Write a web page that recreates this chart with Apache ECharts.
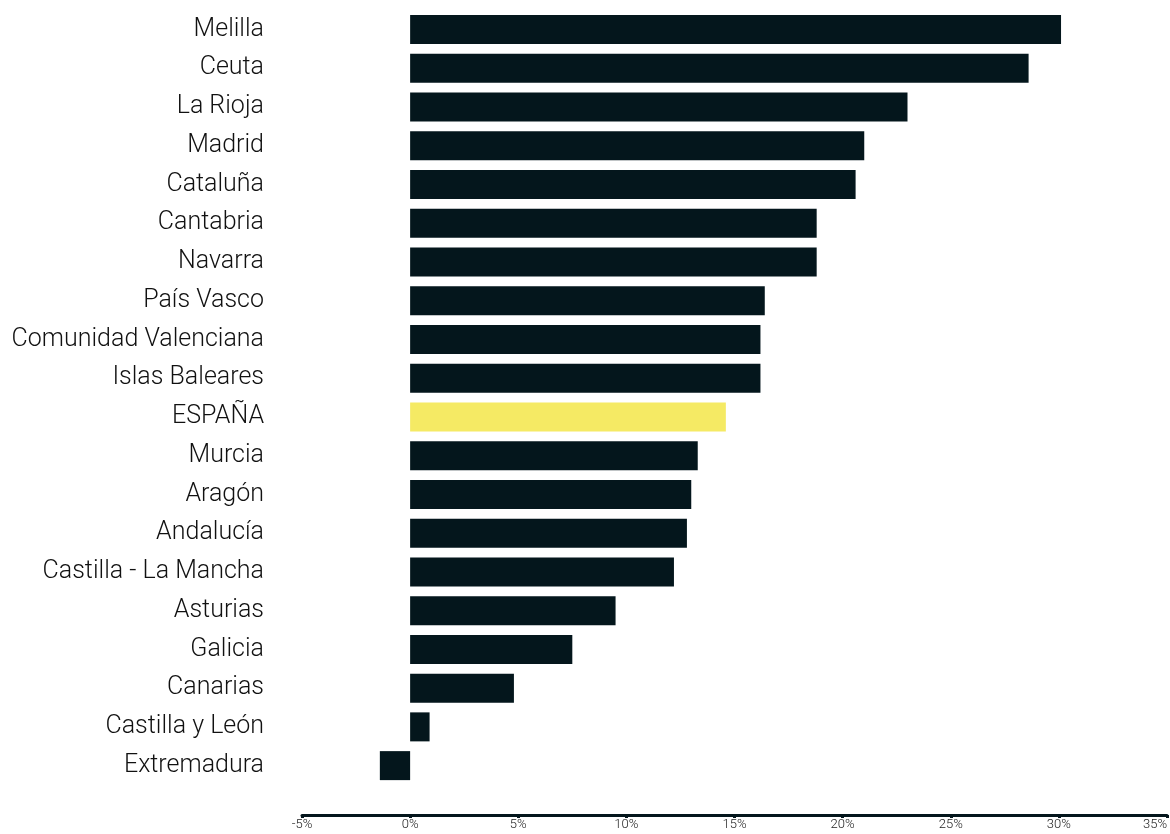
<!DOCTYPE html>
<html>
<head>
<meta charset="utf-8">
<script src="https://cdn.jsdelivr.net/npm/echarts@6/dist/echarts.min.js"></script>
<style>
  html, body { margin: 0; padding: 0; background: #fff; }
  #chart { width: 1170px; height: 834px; }
</style>
</head>
<body>
<div id="chart"></div>
<script>
var regiones = ['Melilla', 'Ceuta', 'La Rioja', 'Madrid', 'Cataluña', 'Cantabria', 'Navarra',
  'País Vasco', 'Comunidad Valenciana', 'Islas Baleares', 'ESPAÑA', 'Murcia', 'Aragón',
  'Andalucía', 'Castilla - La Mancha', 'Asturias', 'Galicia', 'Canarias', 'Castilla y León',
  'Extremadura'];
var valores = [30.1, 28.6, 23.0, 21.0, 20.6, 18.8, 18.8, 16.4, 16.2, 16.2, 14.6, 13.3, 13.0,
  12.8, 12.2, 9.5, 7.5, 4.8, 0.9, -1.4];
var destacado = 'ESPAÑA';

var chart = echarts.init(document.getElementById('chart'));

var datos = valores.map(function(v, i) {
  return {
    value: v,
    itemStyle: { color: regiones[i] === destacado ? '#f5ea64' : '#04161c' }
  };
});

chart.setOption({
  animation: false,
  grid: { left: 302, right: 2, top: 10, bottom: 49 },
  xAxis: {
    type: 'value',
    min: -5,
    max: 35,
    interval: 5,
    offset: 30,
    splitLine: { show: false },
    axisLine: { show: true, onZero: false, lineStyle: { color: '#04161c', width: 3 } },
    axisTick: { show: true, length: 3, lineStyle: { color: '#04161c', width: 3 } },
    axisLabel: {
      formatter: '{value}%',
      color: '#222',
      fontFamily: 'Roboto',
      fontWeight: 300,
      fontSize: 13,
      margin: 3,
      alignMaxLabel: 'right'
    }
  },
  yAxis: {
    type: 'category',
    data: regiones,
    inverse: true,
    axisLine: { show: false },
    axisTick: { show: false },
    axisLabel: {
      color: '#111',
      fontFamily: 'Roboto',
      fontWeight: 300,
      fontSize: 25,
      margin: 38
    }
  },
  series: [{
    type: 'bar',
    data: datos,
    barWidth: 29
  }]
});
</script>
</body>
</html>
